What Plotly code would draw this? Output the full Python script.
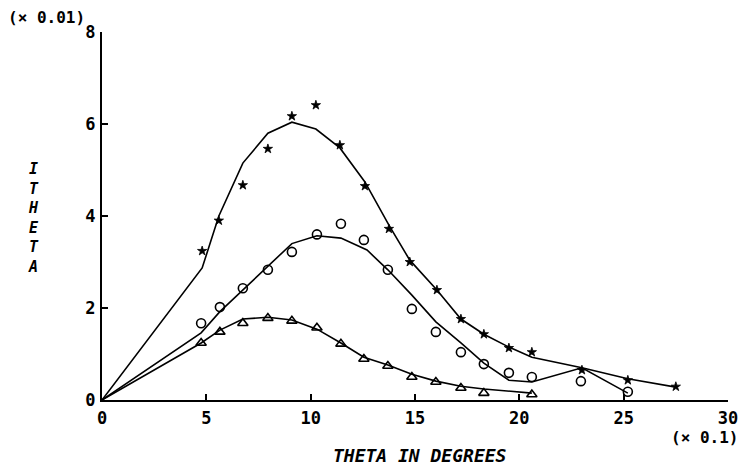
import plotly.graph_objects as go

# marker data (theta in 0.1 deg, I in 0.01)
star_x = [4.8, 5.6, 6.75, 7.95, 9.1, 10.25, 11.4, 12.6, 13.75, 14.75, 16.05, 17.2, 18.3, 19.5, 20.6, 23.0, 25.2, 27.5]
star_y = [3.24, 3.9, 4.67, 5.46, 6.17, 6.41, 5.54, 4.65, 3.72, 3.0, 2.39, 1.76, 1.43, 1.13, 1.04, 0.65, 0.43, 0.29]

circ_x = [4.75, 5.65, 6.75, 7.95, 9.1, 10.3, 11.45, 12.55, 13.7, 14.85, 16.0, 17.2, 18.3, 19.5, 20.6, 22.95, 25.2]
circ_y = [1.67, 2.02, 2.43, 2.83, 3.22, 3.6, 3.83, 3.48, 2.83, 1.98, 1.48, 1.04, 0.78, 0.59, 0.5, 0.41, 0.18]

tri_x = [4.75, 5.65, 6.75, 7.95, 9.1, 10.3, 11.45, 12.55, 13.7, 14.85, 16.0, 17.2, 18.3, 20.6]
tri_y = [1.24, 1.48, 1.67, 1.78, 1.72, 1.57, 1.22, 0.89, 0.74, 0.5, 0.39, 0.26, 0.15, 0.12]

# fitted curves
star_fit_x = [0, 4.8, 5.6, 6.75, 7.95, 9.1, 10.25, 11.4, 12.6, 13.75, 14.75, 16.05, 17.2, 18.3, 19.5, 20.6, 23.0, 25.2, 27.5]
star_fit_y = [0, 2.87, 4.0, 5.15, 5.8, 6.04, 5.89, 5.48, 4.74, 3.8, 3.04, 2.39, 1.76, 1.43, 1.15, 0.93, 0.70, 0.46, 0.28]

circ_fit_x = [0, 4.75, 5.65, 6.75, 7.95, 9.1, 10.3, 11.45, 12.7, 13.7, 14.85, 16.0, 17.2, 18.3, 19.5, 20.6, 23.0, 25.2]
circ_fit_y = [0, 1.46, 1.92, 2.39, 2.9, 3.4, 3.57, 3.52, 3.26, 2.83, 2.28, 1.70, 1.24, 0.80, 0.43, 0.39, 0.70, 0.15]

tri_fit_x = [0, 4.75, 5.65, 6.75, 7.95, 9.1, 10.3, 11.45, 12.55, 13.7, 14.85, 16.0, 17.2, 18.3, 20.6]
tri_fit_y = [0, 1.24, 1.52, 1.76, 1.8, 1.74, 1.54, 1.24, 0.93, 0.76, 0.56, 0.41, 0.3, 0.24, 0.15]

x_ticks = [0, 5, 10, 15, 20, 25, 30]
y_ticks = [0, 2, 4, 6, 8]

FONT = "DejaVu Sans Mono"
# the page body has an 8px default margin; compensate so plot sits where the reference does
BODY = 8
PLOT_W = 728 - 102
PLOT_H = 400 - 32

fig = go.Figure()

line_style = dict(color="black", width=1.6)
fig.add_trace(go.Scatter(x=star_fit_x, y=star_fit_y, mode="lines", line=line_style, showlegend=False))
fig.add_trace(go.Scatter(x=circ_fit_x, y=circ_fit_y, mode="lines", line=line_style, showlegend=False))
fig.add_trace(go.Scatter(x=tri_fit_x, y=tri_fit_y, mode="lines", line=line_style, showlegend=False))

fig.add_trace(go.Scatter(x=star_x, y=star_y, mode="markers", cliponaxis=False,
                         marker=dict(symbol="star", size=7, color="black", line=dict(width=0.8, color="black")),
                         showlegend=False))
fig.add_trace(go.Scatter(x=circ_x, y=circ_y, mode="markers", cliponaxis=False,
                         marker=dict(symbol="circle-open", size=9, color="black", line=dict(width=1.6)), showlegend=False))
fig.add_trace(go.Scatter(x=tri_x, y=tri_y, mode="markers", cliponaxis=False,
                         marker=dict(symbol="triangle-up-open", size=9, color="black", line=dict(width=1.6)), showlegend=False))

axis_common = dict(showgrid=False, zeroline=False, showline=True, linecolor="black", linewidth=2,
                   ticks="inside", ticklen=6, tickwidth=2, tickcolor="black",
                   tickfont=dict(family=FONT, size=17, color="black", weight="bold"))


def px(xpix):
    return (xpix - 102) / PLOT_W


def py(ypix):
    return (400 - ypix) / PLOT_H


fig.update_layout(
    width=749 - BODY, height=466 - BODY,
    margin=dict(l=102 - BODY, r=21, t=32 - BODY, b=66, autoexpand=False),
    paper_bgcolor="white", plot_bgcolor="white",
    xaxis=dict(range=[0, 30], tickvals=x_ticks, ticktext=[str(v) for v in x_ticks], ticklabelstandoff=2, **axis_common),
    yaxis=dict(range=[0, 8], tickvals=y_ticks, ticktext=[str(v) for v in y_ticks], ticklabelstandoff=1, **axis_common),
    annotations=[
        dict(text="(× 0.01)", xref="paper", yref="paper", x=px(6), y=py(18),
             xanchor="left", yanchor="middle", showarrow=False,
             font=dict(family=FONT, size=16, color="black", weight="bold")),
        dict(text="(× 0.1)", xref="paper", yref="paper", x=px(740), y=py(437),
             xanchor="right", yanchor="middle", showarrow=False,
             font=dict(family=FONT, size=16, color="black", weight="bold")),
        dict(text="<i>THETA IN DEGREES</i>", xref="paper", yref="paper", x=px(420), y=py(455),
             xanchor="center", yanchor="middle", showarrow=False,
             font=dict(family=FONT, size=18, color="black", weight="bold")),
        dict(text="<i>I<br>T<br>H<br>E<br>T<br>A</i>", xref="paper", yref="paper", x=px(33),
             y=py(218), xanchor="center", yanchor="middle", showarrow=False,
             font=dict(family=FONT, size=15, color="black", weight="bold")),
    ],
)

fig.write_html("out.html")
